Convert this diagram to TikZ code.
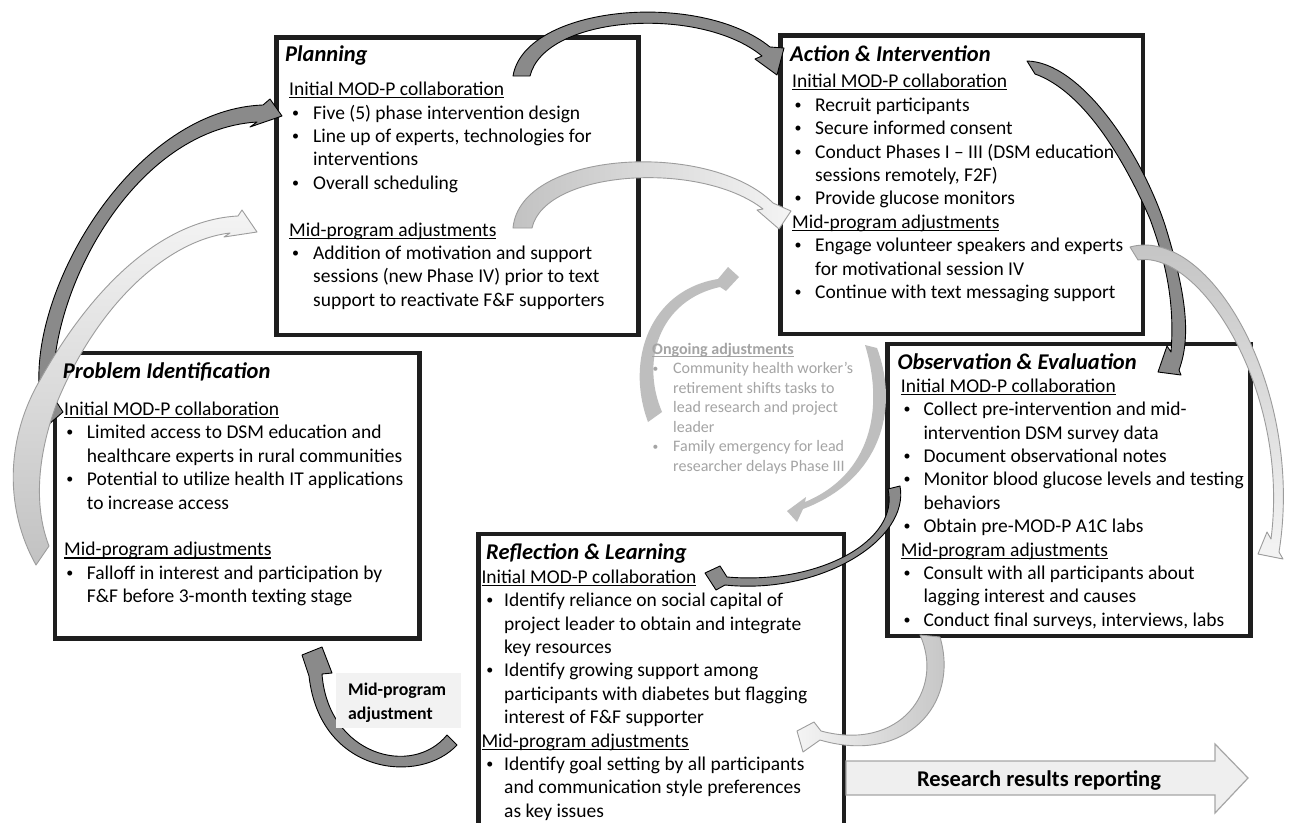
\documentclass[tikz,border=0pt]{standalone}
\usepackage{fontspec}
\usepackage{graphicx}
\setmainfont{Carlito}
\definecolor{darkfill}{HTML}{8A8A8A}
\definecolor{lightedge}{HTML}{9C9C9C}
\definecolor{lightA}{HTML}{C2C2C2}
\definecolor{lightB}{HTML}{F4F4F4}
\definecolor{ongoingfill}{HTML}{BEBEBE}
\definecolor{ongoingtext}{HTML}{A4A4A4}
\definecolor{labelbg}{HTML}{F2F2F2}
\definecolor{reportfill}{HTML}{EFEFEF}
\definecolor{reportedge}{HTML}{A6A6A6}
\definecolor{boxline}{HTML}{1E1E1E}
\newlength\bulx
\newlength\bulw
\newcommand\bdot{\raisebox{0.1em}{\scalebox{0.72}{•}}}
\newcommand\bln[1]{\hspace*{\bulx}\makebox[\bulw][l]{\bdot}#1}
\newcommand\cln[1]{\hspace*{\bulx}\hspace*{\bulw}#1}
\newcommand\hu[1]{\setbox0\hbox{#1}\rlap{\rule[-2.6pt]{\wd0}{1.1pt}}\box0}
\newcommand\fst[1]{\rule{0pt}{#1}}
\begin{document}
\begin{tikzpicture}[x=1pt,y=-1pt,
  box/.style={draw=boxline, line width=4.8pt, inner sep=0pt, anchor=north west},
  ttl/.style={anchor=base west, inner sep=0pt, font=\fontsize{22.5}{27}\selectfont\bfseries\itshape},
  body/.style={anchor=north west, inner sep=0pt, align=left, font=\fontsize{19.5}{23.4}\selectfont},
  darkarr/.style={fill=darkfill, draw=black, line width=0.9pt, line join=round},
  lightarr/.style={draw=lightedge, line width=0.9pt, line join=round},
  ongoingarr/.style={fill=ongoingfill},
]
\useasboundingbox (0,0) rectangle (1290,822);
\fill[white] (0,0) rectangle (1290,822);
\clip (0,0) rectangle (1290,822);

% ---------- boxes ----------
\node[box, minimum width=362pt, minimum height=297.5pt] (plan) at (274,35) {};
\node[box, minimum width=362.5pt, minimum height=298.5pt] (act) at (778,33) {};
\node[box, minimum width=364.5pt, minimum height=285.5pt] (prob) at (52.5,350.5) {};
\node[box, minimum width=363pt, minimum height=292pt] (obs) at (885,341.5) {};
\node[box, minimum width=365.5pt, minimum height=300pt] (refl) at (476,531.5) {};

% ---------- curved arrows ----------
% Planning -> Action (dark, top)
\filldraw[darkarr] (513,76) .. controls (525,5) and (700,-10) .. (770,47) -- (784,48) -- (777,75) -- (755,59) -- (762,56) .. controls (700,5) and (545,15) .. (530,76) -- cycle;
% Planning mid -> Action mid (light)
\path[lightarr, left color=lightA, right color=lightB] (513,228) .. controls (520,150) and (710,140) .. (773,203) -- (791,211) -- (779,229) -- (757,210) -- (763,209) .. controls (700,160) and (545,170) .. (532,228) -- cycle;
% Problem -> Planning (dark, left)
\filldraw[darkarr] (48,425) .. controls (5,330) and (120,110) .. (263,105) -- (270,99) -- (282,116) -- (250,127) -- (257,122) .. controls (130,130) and (45,300) .. (54,398) -- (63,412) -- cycle;
% Problem mid -> Planning (light, left)
\path[lightarr, top color=lightB, bottom color=lightA] (36,565) .. controls (5,510) and (5,440) .. (40,380) .. controls (90,290) and (160,220) .. (238,216) -- (242,210) -- (257,232) -- (224,237) -- (230,233) .. controls (170,240) and (100,300) .. (58,400) .. controls (35,460) and (35,510) .. (49,546) -- cycle;
% Action -> Observation (dark, right)
\filldraw[darkarr] (1027,61) .. controls (1080,62) and (1140,150) .. (1165,225) .. controls (1185,290) and (1192,335) .. (1179,370) -- (1181,375) -- (1158,372) -- (1167,346) -- (1171,352) .. controls (1175,300) and (1165,260) .. (1150,219) .. controls (1120,150) and (1080,90) .. (1035,74) -- cycle;
% Action mid -> Observation mid (light, right)
\path[lightarr, top color=lightA, bottom color=lightB] (1130,247) .. controls (1210,225) and (1305,390) .. (1279,552) -- (1283,559) -- (1258,554) -- (1267,532) -- (1271,539) .. controls (1290,390) and (1200,250) .. (1138,260) -- cycle;
% Observation -> Reflection (dark)
\filldraw[darkarr] (900,486) .. controls (910,540) and (820,595) .. (725,585) -- (716,590) -- (705,573) -- (720,566) -- (727,577) .. controls (820,585) and (900,540) .. (888,489) -- cycle;
% Observation bottom -> Reflection (light)
\path[lightarr, left color=lightB, right color=lightA] (940,637) .. controls (960,705) and (905,765) .. (820,740) -- (803,752) -- (797,731) -- (814,722) -- (821,731) .. controls (900,752) and (945,690) .. (920,635) -- cycle;
% ongoing adjustment arcs
\fill[ongoingarr] (648,422) .. controls (625,360) and (650,290) .. (718,279) -- (728,267) -- (739,277) -- (726,291) -- (720,287) .. controls (660,300) and (640,360) .. (662,412) -- cycle;
\fill[ongoingarr] (877,348) .. controls (900,410) and (880,480) .. (803,509) -- (797,522) -- (787,511) -- (806,497) -- (805,502) .. controls (870,475) and (885,410) .. (865,345) -- cycle;
% Reflection -> Problem (mid-program adjustment, dark)
\filldraw[darkarr] (457,745) .. controls (420,785) and (320,775) .. (309,676) -- (302,655) -- (322,647) -- (332,673) -- (322,674) .. controls (328,755) and (412,778) .. (447,735) -- cycle;

% ---------- research results arrow ----------
\filldraw[fill=reportfill, draw=reportedge, line width=1.2pt, line join=miter] (846,761) -- (1215,761) -- (1215,744) -- (1248,778) -- (1215,813) -- (1215,795) -- (846,795) -- cycle;
\node[anchor=base, inner sep=0pt, font=\fontsize{22.5}{27}\selectfont\bfseries] (rrr) at (1039,786) {Research results reporting};

% ---------- mid-program adjustment label ----------
\node[fill=labelbg, inner sep=0pt, minimum width=125pt, minimum height=55pt, anchor=north west] (midlab) at (336,673) {};
\node[anchor=north west, inner sep=0pt, align=left, font=\fontsize{17.8}{23.5}\selectfont\bfseries] (midlabT) at (348,681.5) {\fst{14pt}Mid-program\\adjustment};

% ---------- titles ----------
\node[ttl] (planT) at (285,61.5) {Planning};
\node[ttl] (actT) at (790,61.5) {Action \& Intervention};
\node[ttl] (probT) at (62.7,378) {Problem Identification};
\node[ttl] (obsT) at (897.3,369.5) {Observation \& Evaluation};
\node[ttl] (reflT) at (486,559.5) {Reflection \& Learning};

% ---------- bodies ----------
\setlength\bulx{3pt}\setlength\bulw{21pt}
\node[body] (planB) at (289,77.5) {\fst{18pt}\hu{Initial MOD-P collaboration}\\
\bln{Five (5) phase intervention design}\\
\bln{Line up of experts, technologies for}\\
\cln{interventions}\\
\bln{Overall scheduling}\\
\mbox{}\\
\hu{Mid-program adjustments}\\
\bln{Addition of motivation and support}\\
\cln{sessions (new Phase IV) prior to text}\\
\cln{support to reactivate F\&F supporters}};

\setlength\bulx{2.5pt}\setlength\bulw{20.5pt}
\node[body] (actB) at (792,69.6) {\fst{18pt}\hu{Initial MOD-P collaboration}\\
\bln{Recruit participants}\\
\bln{Secure informed consent}\\
\bln{Conduct Phases I -- III (DSM education}\\
\cln{sessions remotely, F2F)}\\
\bln{Provide glucose monitors}\\
\hu{Mid-program adjustments}\\
\bln{Engage volunteer speakers and experts}\\
\cln{for motivational session IV}\\
\bln{Continue with text messaging support}};

\setlength\bulx{2.2pt}\setlength\bulw{20.5pt}
\node[body] (probB) at (64,397.3) {\fst{18pt}\hu{Initial MOD-P collaboration}\\
\bln{Limited access to DSM education and}\\
\cln{healthcare experts in rural communities}\\
\bln{Potential to utilize health IT applications}\\
\cln{to increase access}\\
\mbox{}\\
\hu{Mid-program adjustments}\\
\bln{Falloff in interest and participation by}\\
\cln{F\&F before 3-month texting stage}};

\setlength\bulx{2.8pt}\setlength\bulw{19.8pt}
\node[body] (obsB) at (900.7,374) {\fst{18pt}\hu{Initial MOD-P collaboration}\\
\bln{Collect pre-intervention and mid-}\\
\cln{intervention DSM survey data}\\
\bln{Document observational notes}\\
\bln{Monitor blood glucose levels and testing}\\
\cln{behaviors}\\
\bln{Obtain pre-MOD-P A1C labs}\\
\hu{Mid-program adjustments}\\
\bln{Consult with all participants about}\\
\cln{lagging interest and causes}\\
\bln{Conduct final surveys, interviews, labs}};

\setlength\bulx{4.9pt}\setlength\bulw{17.8pt}
\node[body] (reflB) at (481.3,565) {\fst{18pt}\hu{Initial MOD-P collaboration}\\
\bln{Identify reliance on social capital of}\\
\cln{project leader to obtain and integrate}\\
\cln{key resources}\\
\bln{Identify growing support among}\\
\cln{participants with diabetes but flagging}\\
\cln{interest of F\&F supporter}\\
\hu{Mid-program adjustments}\\
\bln{Identify goal setting by all participants}\\
\cln{and communication style preferences}\\
\cln{as key issues}};

% ---------- ongoing adjustments ----------
\setlength\bulx{0.5pt}\setlength\bulw{20.5pt}
\node[anchor=north west, inner sep=0pt, align=left, text=ongoingtext, font=\fontsize{16}{19.5}\selectfont] (ongo) at (652,339) {\fst{15pt}\hu{\bfseries Ongoing adjustments}\\
\bln{Community health worker’s}\\
\cln{retirement shifts tasks to}\\
\cln{lead research and project}\\
\cln{leader}\\
\bln{Family emergency for lead}\\
\cln{researcher delays Phase III}};
\end{tikzpicture}
\end{document}
